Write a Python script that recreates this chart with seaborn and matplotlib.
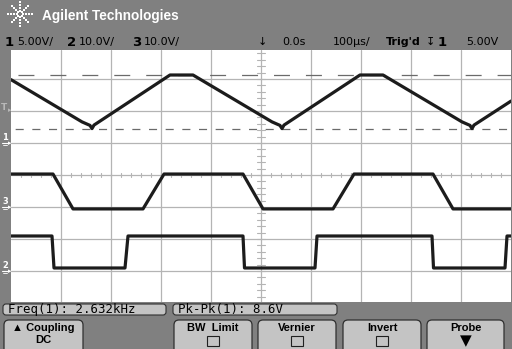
import numpy as np
import pandas as pd
import matplotlib
matplotlib.use("Agg")
import matplotlib.pyplot as plt
from matplotlib.patches import FancyBboxPatch, Rectangle
import seaborn as sns

# ---------------- data (time in divisions, 100 us/div; amplitude in screen divisions) -------------
ch1_t = [0.00, 1.42, 1.58, 1.62, 1.66, 3.18, 3.64, 5.22, 5.38, 5.42, 5.46, 6.98, 7.44, 9.02, 9.18, 9.22, 9.26, 10.0]
ch1_v = [6.98, 5.66, 5.55, 5.45, 5.56, 7.125, 7.125, 5.66, 5.55, 5.45, 5.56, 7.125, 7.125, 5.66, 5.55, 5.45, 5.56, 6.31]

ch3_t = [0.00, 0.84, 1.24, 2.64, 3.06, 4.64, 5.04, 6.44, 6.86, 8.44, 8.84, 10.0]
ch3_v = [4.03, 4.03, 2.94, 2.94, 4.03, 4.03, 2.94, 2.94, 4.03, 4.03, 2.94, 2.94]

ch2_t = [0.00, 0.82, 0.86, 2.28, 2.34, 4.64, 4.67, 6.08, 6.12, 8.42, 8.45, 9.88, 9.92, 10.0]
ch2_v = [2.094, 2.094, 1.094, 1.094, 2.094, 2.094, 1.094, 1.094, 2.094, 2.094, 1.094, 1.094, 2.094, 2.094]

cursor_levels = [7.14, 5.44]

header_left = [("1", "5.00V/"), ("2", "10.0V/"), ("3", "10.0V/")]
header_right = ["0.0s", "100µs/", "Trig'd", "1", "5.00V"]
meas_labels = ["Freq(1): 2.632kHz", "Pk-Pk(1): 8.6V"]
softkeys = [("▲ Coupling", "DC"), ("BW  Limit", "box"), ("Vernier", "box"), ("Invert", "box"), ("Probe", "arrow")]

# ---------------- figure ----------------
W, H = 512, 349
sns.set_style("white")
plt.rcParams["font.family"] = ["DejaVu Sans"]
fig = plt.figure(figsize=(W / 100, H / 100), dpi=100, facecolor="#808080")

# overlay axes in pixel coordinates for the instrument frame
bg = fig.add_axes([0, 0, 1, 1], zorder=0)
bg.set_xlim(0, W)
bg.set_ylim(H, 0)
bg.axis("off")
bg.set_facecolor("#808080")

# screen axes
x0, x1, y0, y1 = 11, 511, 50, 302
ax = fig.add_axes([x0 / W, 1 - y1 / H, (x1 - x0) / W, (y1 - y0) / H], zorder=2)
ax.set_facecolor("white")
ax.set_xlim(0, 10)
ax.set_ylim((303 - y1) / 32, (303 - y0) / 32)
for s in ax.spines.values():
    s.set_visible(False)
ax.set_xticks([])
ax.set_yticks([])

gcol = "#b4b4b4"
for xv in range(1, 10):
    ax.axvline(xv, color=gcol, lw=0.9, zorder=0)
for yv in range(1, 8):
    ax.axhline(yv, color=gcol, lw=0.9, zorder=0)
# center-line minor ticks
for yv in np.arange(0.2, 7.9, 0.2):
    ax.plot([4.92, 5.08], [yv, yv], color=gcol, lw=0.8, zorder=0)
for xv in np.arange(0.2, 10, 0.2):
    ax.plot([xv, xv], [3.94, 4.06], color=gcol, lw=0.8, zorder=0)

# cursors
plt.rcParams["lines.scale_dashes"] = False
ax.axhline(cursor_levels[0], color="#6a6a6a", lw=0.9, linestyle=(18, (11.5, 11.5)), zorder=1)
ax.axhline(cursor_levels[1], color="#6a6a6a", lw=0.9, linestyle=(9, (5.8, 6.2)), zorder=1)

# traces
df = pd.concat([
    pd.DataFrame({"t": ch1_t, "v": ch1_v, "ch": "1"}),
    pd.DataFrame({"t": ch3_t, "v": ch3_v, "ch": "3"}),
    pd.DataFrame({"t": ch2_t, "v": ch2_v, "ch": "2"}),
])
sns.lineplot(data=df, x="t", y="v", units="ch", estimator=None, sort=False,
             color="#1c1c1c", lw=2.3, ax=ax, legend=False, zorder=3)
ax.set_xlabel("")
ax.set_ylabel("")

# ---------------- header ----------------
# starburst logo
cx, cy = 20, 14
for ang in np.arange(0, 360, 45):
    r = np.array([3, 6, 9, 12])
    bg.scatter(cx + r * np.cos(np.radians(ang)), cy + r * np.sin(np.radians(ang)),
               s=1.2, color="white", marker="s", linewidths=0)
bg.text(42, 16, "Agilent Technologies", color="white", fontsize=9.8, fontweight="bold",
        family="Liberation Sans", va="center", ha="left")

lx = [5, 67, 132]
for (n, lab), x in zip(header_left, lx):
    bg.text(x, 42, n, fontsize=9.5, fontweight="bold", va="center", ha="left", color="black")
    bg.text(x + 12, 42, lab, fontsize=8, va="center", ha="left", color="black")

bg.text(262, 42, "↓", fontsize=8, va="center", ha="center", color="black")
bg.text(282, 42, header_right[0], fontsize=8, va="center", ha="left", color="black")
bg.text(333, 42, header_right[1], fontsize=8, va="center", ha="left", color="black")
bg.text(386, 42, header_right[2], fontsize=8, fontweight="bold", va="center", ha="left", color="black")
bg.text(430, 42, "↧", fontsize=8, va="center", ha="center", color="black")
bg.text(438, 42, header_right[3], fontsize=9.5, fontweight="bold", va="center", ha="left", color="black")
bg.text(466, 42, header_right[4], fontsize=8, va="center", ha="left", color="black")

# left strip markers
bg.text(1, 108, "T", fontsize=6.5, fontweight="bold", color="#b8b8b8", va="center", ha="left")
bg.text(8, 110, "▸", fontsize=5, color="#b8b8b8", va="center", ha="left")
for lab, yy in [("1", 143), ("3", 207), ("2", 271)]:
    bg.text(2, yy - 5, lab, fontsize=6, fontweight="bold", color="white", va="center", ha="left")
    bg.plot([2, 9], [yy, yy], color="white", lw=0.8)
    bg.plot([3, 7], [yy + 2, yy + 2], color="white", lw=0.6)
    bg.text(8, yy, "▸", fontsize=5, color="white", va="center", ha="left")

# ---------------- measurement bar ----------------
for (xa, xb), lab in zip([(3, 166), (173, 337)], meas_labels):
    bg.add_patch(FancyBboxPatch((xa, 304), xb - xa, 11,
                                boxstyle="round,pad=0,rounding_size=3",
                                fc="#c4c4c4", ec="#303030", lw=0.8))
    bg.text(xa + 5, 310, lab, fontsize=8.9, family="DejaVu Sans Mono",
            va="center", ha="left", color="black")

# ---------------- softkeys ----------------
keys_x = [(4, 83), (174, 252), (258, 336), (343, 421), (427, 504)]
for (xa, xb), (top, bot) in zip(keys_x, softkeys):
    bg.add_patch(FancyBboxPatch((xa, 320), xb - xa, 34,
                                boxstyle="round,pad=0,rounding_size=5",
                                fc="#c4c4c4", ec="#303030", lw=0.9))
    xc = (xa + xb) / 2
    bg.text(xc, 328, top, fontsize=8, fontweight="bold", family="Liberation Sans",
            va="center", ha="center", color="black")
    if bot == "DC":
        bg.text(xc, 340, "DC", fontsize=8, fontweight="bold", family="Liberation Sans",
                va="center", ha="center", color="black")
    elif bot == "box":
        bg.add_patch(Rectangle((xc - 6, 336), 12, 10, fc="#c4c4c4", ec="#202020", lw=0.8))
    else:
        bg.text(xc, 341, "▼", fontsize=11, va="center", ha="center", color="black")

fig.savefig("out.png", dpi=100, facecolor=fig.get_facecolor())
